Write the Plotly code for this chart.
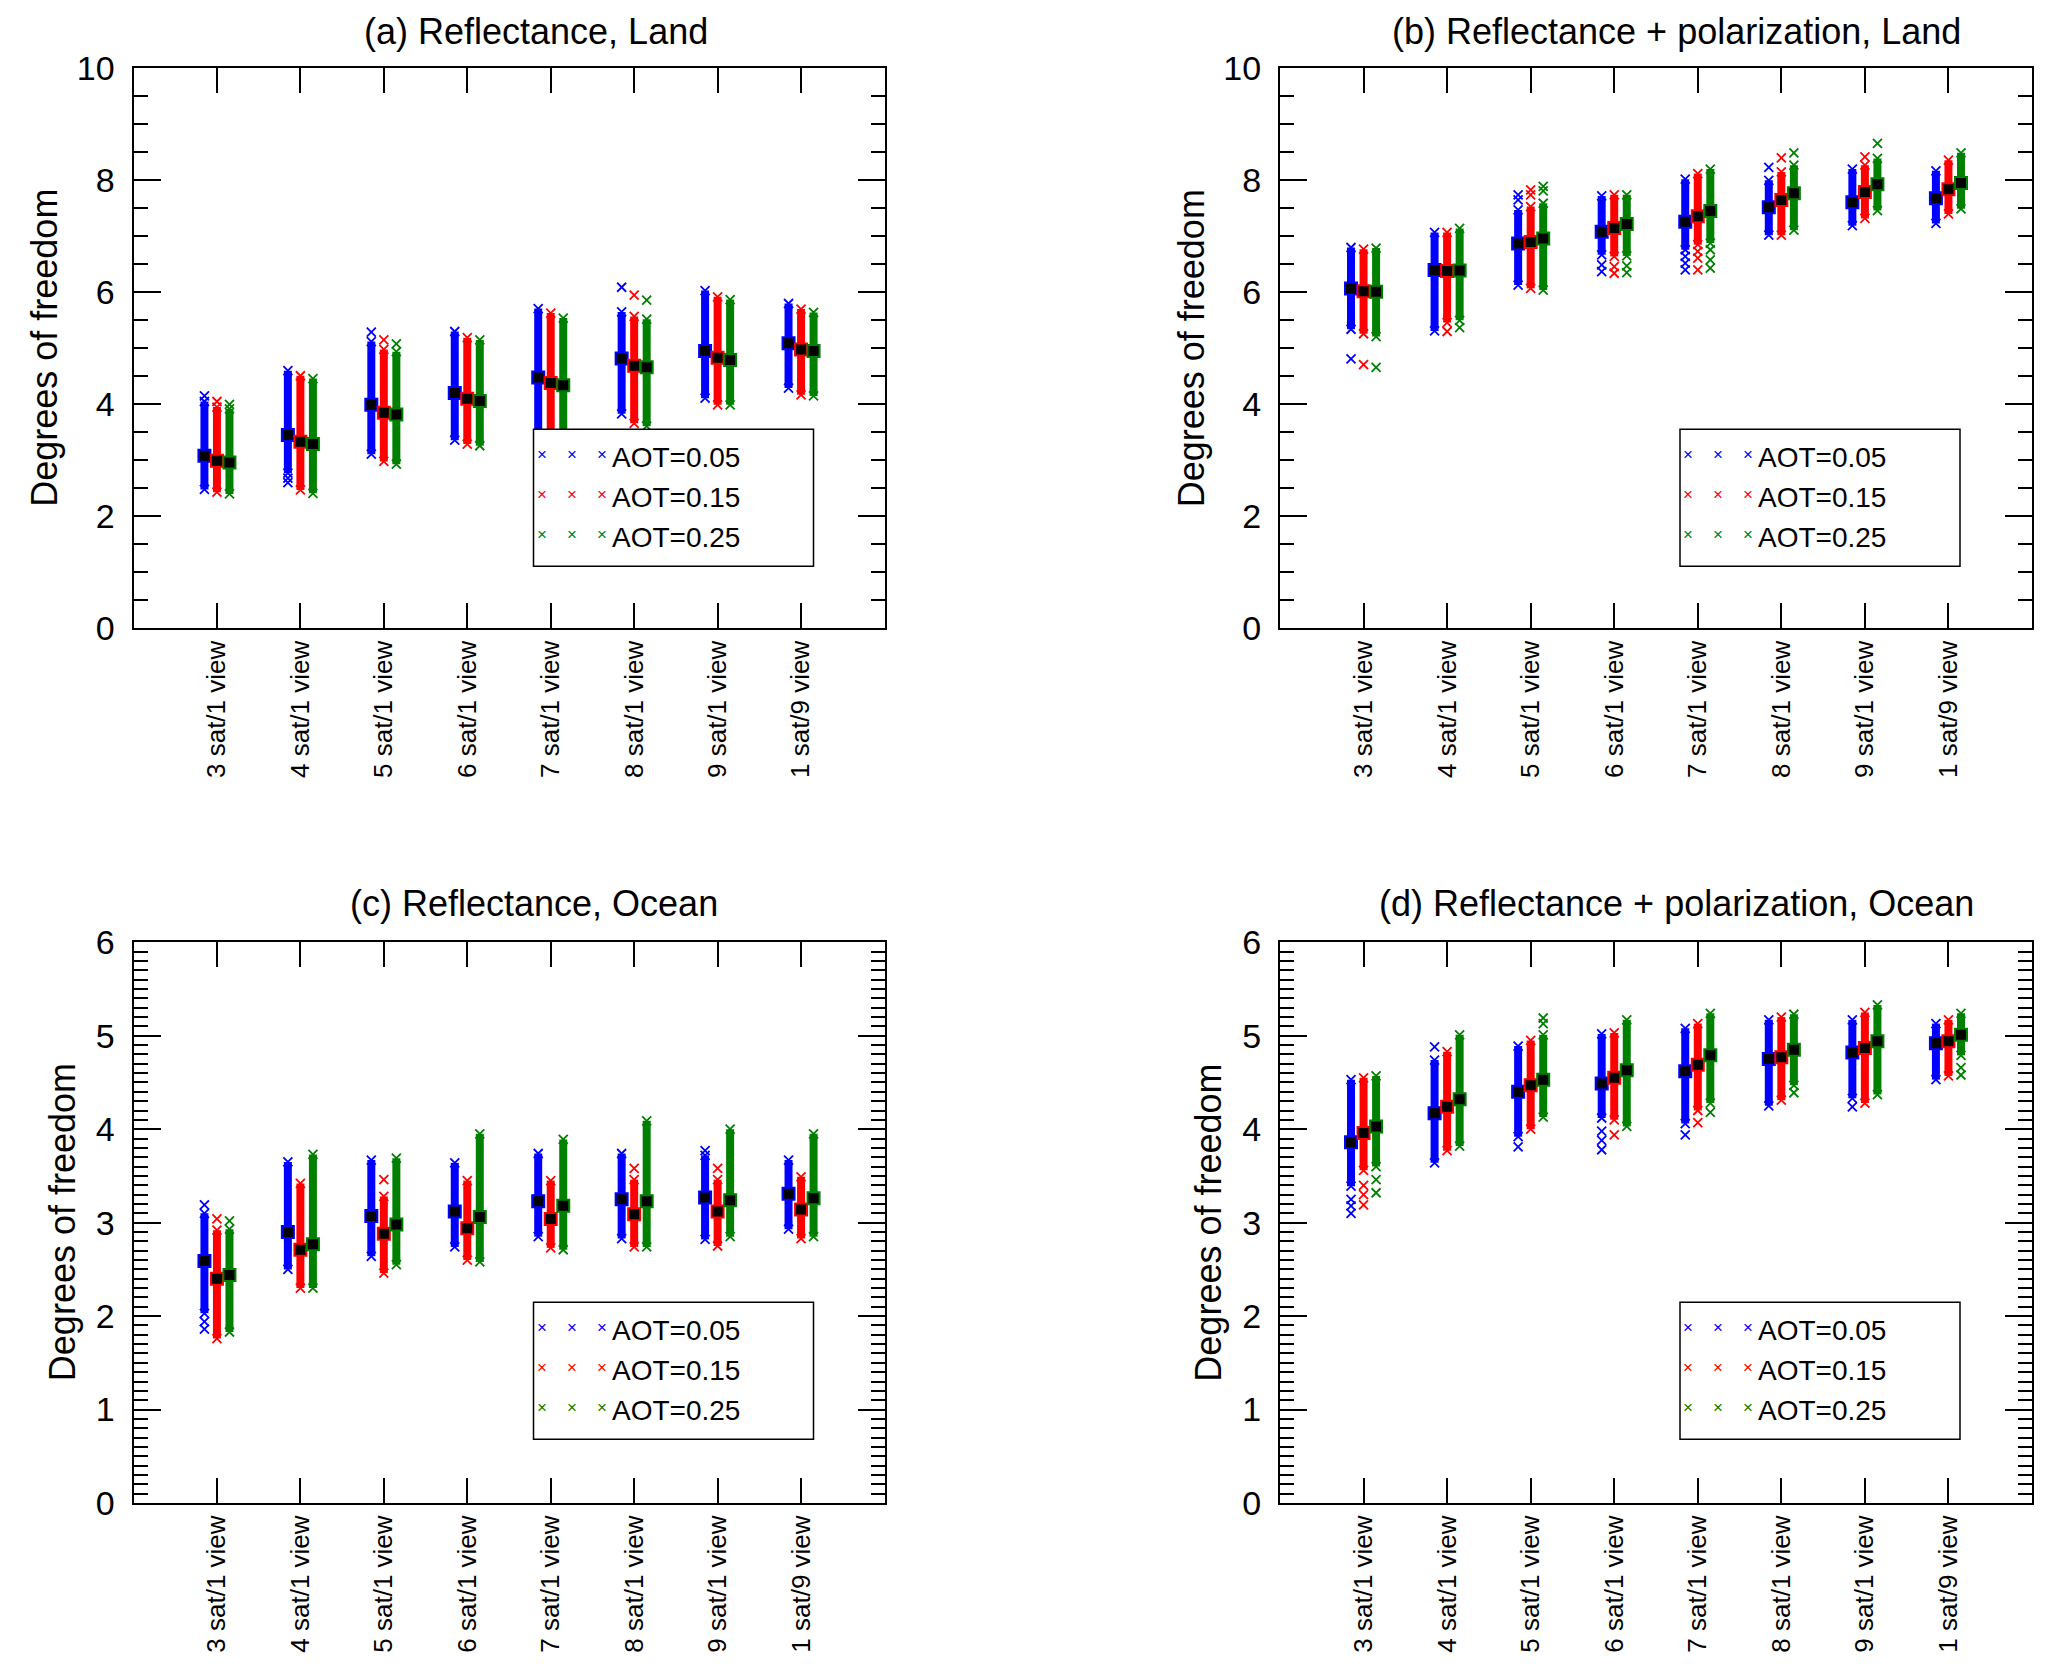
import plotly.graph_objects as go

# page body has an 8px margin: size the figure so it fits the window exactly
PAGE_W, PAGE_H = 2067, 1664
BODY = 8
W, H = PAGE_W - 2 * BODY, PAGE_H - 2 * BODY
FONT = "Liberation Sans, Arial, sans-serif"

categories = ["3 sat/1 view", "4 sat/1 view", "5 sat/1 view", "6 sat/1 view",
              "7 sat/1 view", "8 sat/1 view", "9 sat/1 view", "1 sat/9 view"]
series_names = ["AOT=0.05", "AOT=0.15", "AOT=0.25"]
series_colors = ["#0000FF", "#FF0000", "#008000"]
titles = ["(a) Reflectance, Land", "(b) Reflectance + polarization, Land",
          "(c) Reflectance, Ocean", "(d) Reflectance + polarization, Ocean"]
y_title = "Degrees of freedom"

# ---------- panel (a): Reflectance, Land ----------
a_mean = [[3.08, 3.45, 3.99, 4.20, 4.48, 4.82, 4.95, 5.09],
          [2.99, 3.33, 3.85, 4.10, 4.38, 4.69, 4.83, 4.98],
          [2.96, 3.29, 3.82, 4.06, 4.34, 4.66, 4.79, 4.95]]
a_lo = [[2.48, 2.77, 3.11, 3.36, 3.40, 3.83, 4.11, 4.29],
        [2.43, 2.47, 2.98, 3.29, 3.40, 3.66, 3.99, 4.17],
        [2.40, 2.41, 2.93, 3.26, 3.40, 3.61, 3.99, 4.15]]
a_hi = [[4.05, 4.60, 5.12, 5.30, 5.71, 5.65, 6.03, 5.80],
        [3.95, 4.51, 4.98, 5.19, 5.63, 5.57, 5.92, 5.70],
        [3.92, 4.46, 4.94, 5.15, 5.54, 5.52, 5.87, 5.64]]
a_out = [[[4.15], [2.68, 2.60], [5.29], [], [], [6.09], [], []],
         [[4.05], [], [5.15], [], [], [5.95], [], []],
         [[4.00], [], [5.08], [], [], [5.86], [], []]]

# ---------- panel (b): Reflectance + polarization, Land ----------
b_mean = [[6.07, 6.40, 6.87, 7.08, 7.26, 7.52, 7.61, 7.68],
          [6.02, 6.38, 6.90, 7.15, 7.36, 7.65, 7.79, 7.84],
          [6.01, 6.39, 6.96, 7.22, 7.45, 7.77, 7.93, 7.95]]
b_lo = [[5.34, 5.31, 6.13, 6.67, 6.76, 7.02, 7.19, 7.23],
        [5.26, 5.46, 6.07, 6.64, 6.85, 7.02, 7.32, 7.40],
        [5.21, 5.50, 6.04, 6.65, 6.88, 7.11, 7.46, 7.49]]
b_hi = [[6.80, 7.07, 7.47, 7.72, 8.02, 8.00, 8.20, 8.17],
        [6.77, 7.07, 7.53, 7.74, 8.12, 8.15, 8.27, 8.36],
        [6.79, 7.14, 7.59, 7.74, 8.20, 8.27, 8.39, 8.49]]
b_out = [[[4.81], [], [7.65, 7.74], [6.49, 6.37], [6.64, 6.52, 6.40], [8.23], [], []],
         [[4.71], [5.30], [7.74, 7.83], [6.46, 6.34], [6.73, 6.61, 6.40], [8.40], [8.42], []],
         [[4.66], [5.37], [7.81, 7.89], [6.47, 6.35], [6.76, 6.58, 6.43], [8.49], [8.66], []]]

# ---------- panel (c): Reflectance, Ocean ----------
c_mean = [[2.59, 2.90, 3.07, 3.12, 3.23, 3.25, 3.27, 3.31],
          [2.40, 2.71, 2.88, 2.94, 3.04, 3.09, 3.12, 3.14],
          [2.44, 2.77, 2.98, 3.06, 3.18, 3.23, 3.24, 3.26]]
c_lo = [[2.03, 2.50, 2.64, 2.74, 2.85, 2.83, 2.82, 2.93],
        [1.76, 2.30, 2.46, 2.60, 2.73, 2.74, 2.75, 2.83],
        [1.83, 2.30, 2.55, 2.58, 2.71, 2.74, 2.85, 2.85]]
c_hi = [[3.10, 3.65, 3.67, 3.64, 3.74, 3.74, 3.72, 3.67],
        [2.92, 3.42, 3.28, 3.45, 3.45, 3.46, 3.46, 3.49],
        [2.93, 3.73, 3.69, 3.95, 3.89, 4.09, 4.00, 3.95]]
c_out = [[[3.19, 1.94, 1.86], [], [], [], [], [], [3.77], []],
         [[3.04], [], [3.46], [], [], [3.58], [3.58], []],
         [[3.02], [], [], [], [], [], [], []]]

# ---------- panel (d): Reflectance + polarization, Ocean ----------
d_mean = [[3.86, 4.17, 4.40, 4.49, 4.62, 4.75, 4.82, 4.92],
          [3.96, 4.24, 4.47, 4.55, 4.69, 4.77, 4.87, 4.94],
          [4.03, 4.32, 4.53, 4.63, 4.79, 4.85, 4.94, 5.01]]
d_lo = [[3.39, 3.64, 3.92, 4.12, 4.06, 4.25, 4.33, 4.53],
        [3.56, 3.77, 4.00, 4.10, 4.20, 4.31, 4.28, 4.57],
        [3.60, 3.82, 4.13, 4.03, 4.28, 4.47, 4.37, 4.79]]
d_hi = [[4.53, 4.74, 4.89, 5.02, 5.08, 5.17, 5.17, 5.13],
        [4.55, 4.83, 4.95, 5.03, 5.13, 5.20, 5.25, 5.17],
        [4.57, 5.01, 5.01, 5.17, 5.24, 5.23, 5.33, 5.24]]
d_out = [[[3.25, 3.18, 3.10], [4.88], [3.81], [3.98, 3.88, 3.78], [3.94], [], [4.24], []],
         [[3.40, 3.30, 3.19], [], [], [3.94], [4.07], [], [], []],
         [[3.46, 3.32], [], [5.13, 5.19], [], [4.18], [4.39], [], [4.66, 4.58]]]

series_offsets = [-0.15, 0.0, 0.15]

# ---------- layout geometry (page pixels) ----------
col_x = [(133.5, 884.5), (1280.0, 2032.0)]
row_y = [(68.3, 628.3), (942.3, 1503.0)]
panel_pos = [(0, 0), (1, 0), (0, 1), (1, 1)]
y_ranges = [[0, 10], [0, 10], [0, 6], [0, 6]]
y_dticks = [2, 2, 1, 1]
y_minor = [0.5, 0.5, 0.1, 0.1]
title_cx = [536, 1676, 534, 1676]
title_cy = [31.5, 31.5, 903, 903]
ytitle_off = [89, 89, 71, 71]


def px(x):
    return (x - BODY) / W


def py(y):
    return 1 - (y - BODY) / H


panels = [(a_mean, a_lo, a_hi, a_out), (b_mean, b_lo, b_hi, b_out),
          (c_mean, c_lo, c_hi, c_out), (d_mean, d_lo, d_hi, d_out)]

fig = go.Figure()
cat_pos = list(range(1, len(categories) + 1))

for p, (means, los, his, outs) in enumerate(panels):
    sfx = "" if p == 0 else str(p + 1)
    xa, ya = "x" + sfx, "y" + sfx
    for s in range(3):
        col = series_colors[s]
        xs_line, ys_line, xs_pts, ys_pts = [], [], [], []
        for i, c in enumerate(cat_pos):
            xc = c + series_offsets[s]
            xs_line += [xc, xc, None]
            ys_line += [los[s][i], his[s][i], None]
            for v in [los[s][i], his[s][i]] + outs[s][i]:
                xs_pts.append(xc)
                ys_pts.append(v)
        fig.add_trace(go.Scatter(x=xs_line, y=ys_line, xaxis=xa, yaxis=ya, mode="lines",
                                 line=dict(color=col, width=8), showlegend=False,
                                 hoverinfo="skip"))
        fig.add_trace(go.Scatter(x=xs_pts, y=ys_pts, xaxis=xa, yaxis=ya, mode="markers",
                                 marker=dict(symbol="x-thin", size=9, color=col,
                                             line=dict(color=col, width=1.8)),
                                 showlegend=False, name=series_names[s]))
        fig.add_trace(go.Scatter(x=[c + series_offsets[s] for c in cat_pos], y=means[s],
                                 xaxis=xa, yaxis=ya, mode="markers",
                                 marker=dict(symbol="square", size=12, color="black",
                                             line=dict(color=col, width=2)),
                                 showlegend=False, name=series_names[s] + " mean"))

layout = dict(width=W, height=H, autosize=False, margin=dict(l=0, r=0, t=0, b=0, pad=0),
              paper_bgcolor="white", plot_bgcolor="white",
              font=dict(family=FONT, color="black"))
annotations, shapes = [], []

for p in range(4):
    ci, ri = panel_pos[p]
    x0, x1 = col_x[ci]
    y0, y1 = row_y[ri]
    sfx = "" if p == 0 else str(p + 1)
    layout["xaxis" + sfx] = dict(
        domain=[px(x0), px(x1)], anchor="y" + sfx, range=[0, 9], automargin=False,
        tickmode="array", tickvals=cat_pos, ticktext=categories, tickangle=-90,
        ticks="inside", ticklen=25, tickwidth=1.5, tickcolor="black",
        showline=True, linecolor="black", linewidth=2, mirror="ticks",
        showgrid=False, zeroline=False, tickfont=dict(size=26, family=FONT))
    layout["yaxis" + sfx] = dict(
        domain=[py(y1), py(y0)], anchor="x" + sfx, range=y_ranges[p], automargin=False,
        dtick=y_dticks[p], tick0=0,
        ticks="inside", ticklen=27, tickwidth=1.5, tickcolor="black",
        minor=dict(dtick=y_minor[p], ticks="inside", ticklen=14, tickwidth=1.5,
                   tickcolor="black", showgrid=False),
        showline=True, linecolor="black", linewidth=2, mirror="ticks",
        showgrid=False, zeroline=False, tickfont=dict(size=34, family=FONT),
        ticklabelstandoff=10)
    annotations.append(dict(text=titles[p], xref="paper", yref="paper",
                            x=px(title_cx[p]), y=py(title_cy[p]), xanchor="center",
                            yanchor="middle", showarrow=False,
                            font=dict(size=36, family=FONT)))
    annotations.append(dict(text=y_title, xref="paper", yref="paper",
                            x=px(x0 - ytitle_off[p]), y=py((y0 + y1) / 2), textangle=-90,
                            xanchor="center", yanchor="middle", showarrow=False,
                            font=dict(size=36, family=FONT)))
    # legend box
    lx0 = x0 + 400
    ly0 = y0 + (361 if ri == 0 else 360)
    shapes.append(dict(type="rect", xref="paper", yref="paper", layer="above",
                       x0=px(lx0), x1=px(lx0 + 280), y0=py(ly0 + 137), y1=py(ly0),
                       fillcolor="white", line=dict(color="black", width=1.5)))
    for s in range(3):
        yy = ly0 + 28 + 40 * s
        for dx in (8, 38, 68):
            annotations.append(dict(text="×", xref="paper", yref="paper",
                                    x=px(lx0 + dx), y=py(yy - 3), xanchor="center",
                                    yanchor="middle", showarrow=False,
                                    font=dict(size=17, family=FONT,
                                              color=series_colors[s])))
        annotations.append(dict(text=series_names[s], xref="paper", yref="paper",
                                x=px(lx0 + 76), y=py(yy), xanchor="left",
                                yanchor="middle", showarrow=False,
                                font=dict(size=28, family=FONT)))

layout["annotations"] = annotations
layout["shapes"] = shapes
fig.update_layout(**layout)
fig.write_html("out.html")
